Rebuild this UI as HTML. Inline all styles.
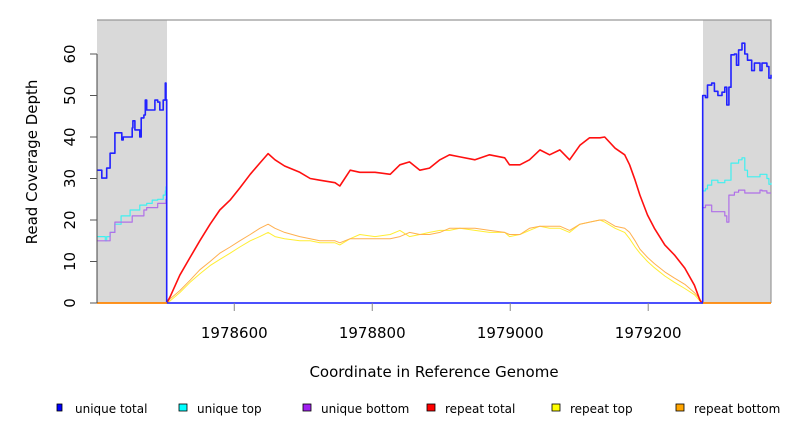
<!DOCTYPE html>
<html><head><meta charset="utf-8">
<style>
body{margin:0;background:#fff;font-family:"Liberation Sans","DejaVu Sans",sans-serif;}
svg text{font-family:"DejaVu Sans","Liberation Sans",sans-serif;}
</style></head>
<body>
<svg id="chart" width="792" height="432" viewBox="0 0 792 432" xmlns="http://www.w3.org/2000/svg">
  <rect x="97" y="20" width="70" height="283" fill="#d9d9d9"/>
  <rect x="703" y="20" width="68" height="283" fill="#d9d9d9"/>
  <path d="M97 20 H771 V303" fill="none" stroke="#999" stroke-width="1.2"/>
  <g id="series"></g>
  <g id="axes"></g>
  <text x="434" y="377" font-size="15" text-anchor="middle">Coordinate in Reference Genome</text>
  <text transform="translate(37,162) rotate(-90)" font-size="15" text-anchor="middle">Read Coverage Depth</text>
  <g id="legend"></g>
</svg>
<script>
const xMin = 1978401, xMax = 1979378;
const yTicks = [0,10,20,30,40,50,60];
const xTicks = [1978600,1978800,1979000,1979200];
const uniqueCoords = [1978401,1978405,1978408,1978413,1978415,1978420,1978427,1978436,1978437,1978439,1978449,1978452,1978453,1978456,1978463,1978465,1978469,1978471,1978473,1978481,1978485,1978489,1978492,1978497,1978500,1978501,1978502,
 1979278,1979279,1979283,1979286,1979292,1979296,1979301,1979307,1979311,1979314,1979317,1979320,1979325,1979328,1979331,1979336,1979340,1979344,1979350,1979354,1979362,1979365,1979372,1979375,1979378];
const uniqueTotal = [32,32,30.1,30.1,32.5,36.1,41,41,39.3,40,40,42.2,43.9,41.7,40,44.6,45.3,48.9,46.5,46.5,48.9,48.4,46.5,48.9,53,49,0,
 0,50,49.5,52.5,53,51,50,50.8,52,47.7,52,59.8,60,57.3,61,62.6,60,58.5,56,57.8,56,57.8,57,54.2,55];
const uniqueTop = [16,16,16,15,16,17,19,21,21,21,22.4,22.4,22.4,22.4,23.6,23.6,23.6,23.6,24,24.8,24.8,25,25,26,27,28,0,
 0,27,27.5,28.4,29.6,29.6,29,29,29.6,29.6,29.6,33.7,33.7,33.7,34.5,35,32,30.4,30.4,30.4,31,31,30,28.6,29];
const uniqueBottom = [15,15,15,15,15,17,19.5,19.5,19.5,19.5,19.5,21,21,21,21,21,22.4,22.4,23,23,23,24,24,24,24,25,0,
 0,23,23.6,23.6,22,22,22,22,21,19.5,26,26,26.7,26.7,27.2,27.2,26.5,26.5,26.5,26.5,27.2,27,26.5,26.5,26.5];
const repeatCoords = [1978401,1978502,1978507,1978521,1978536,1978550,1978565,1978579,1978594,1978608,1978623,1978637,1978649,1978659,1978673,1978695,1978710,1978724,1978746,1978753,1978768,1978782,1978804,1978826,1978840,1978854,1978869,1978883,1978898,1978912,1978927,1978949,1978970,1978992,1978999,1979014,1979028,1979043,1979057,1979072,1979086,1979101,1979115,1979130,1979137,1979152,1979166,1979173,1979181,1979188,1979199,1979209,1979224,1979238,1979253,1979267,1979275,1979278,1979378];
const repeatTotal = [0,0,1.5,6.7,11,15,19,22.4,24.8,27.7,31,33.7,36,34.5,33,31.5,30,29.6,29,28.2,32,31.5,31.5,31,33.3,34,32,32.5,34.5,35.7,35.2,34.5,35.7,35,33.3,33.3,34.5,36.9,35.7,36.9,34.5,38,39.8,39.8,40,37.3,35.7,33.3,29.6,26,21.2,18,14,11.6,8.4,4.3,0.7,0,0];
const repeatTop = [0,0,0.5,2.5,5,7,9,10.5,12,13.5,15,16,17,16,15.5,15,15,14.5,14.5,14,15.5,16.5,16,16.5,17.5,16,16.5,17,17.5,17.5,18,17.5,17,17,16,16.5,17.5,18.5,18,18,17,19,19.5,20,19.5,18,17,15.5,13.5,12,10,8.5,6.5,5,3.5,2,0.5,0,0];
const repeatBottom = [0,0,1,3,5.5,8,10,12,13.5,15,16.5,18,19,18,17,16,15.5,15,15,14.5,15.5,15.5,15.5,15.5,16,17,16.5,16.5,17,18,18,18,17.5,17,16.5,16.5,18,18.5,18.5,18.5,17.5,19,19.5,20,20,18.5,18,17,15,13,11,9.5,7.5,6,4.5,2.5,1,0,0];

const NS = "http://www.w3.org/2000/svg";
const PX0 = 97, PX1 = 771, PY0 = 303, PY60 = 54;
function xs(c){ return PX0 + (c - xMin) / (xMax - xMin) * (PX1 - PX0); }
function ys(v){ return PY0 - v / 60 * (PY0 - PY60); }
function stepPath(cs, vs){
  let d = "M" + xs(cs[0]).toFixed(1) + " " + ys(vs[0]).toFixed(1);
  for (let i = 1; i < cs.length; i++){
    d += " H" + xs(cs[i]).toFixed(1) + " V" + ys(vs[i]).toFixed(1);
  }
  return d;
}
function linePath(cs, vs){
  let d = "M" + xs(cs[0]).toFixed(1) + " " + ys(vs[0]).toFixed(1);
  for (let i = 1; i < cs.length; i++){
    d += " L" + xs(cs[i]).toFixed(1) + " " + ys(vs[i]).toFixed(1);
  }
  return d;
}
const seriesG = document.getElementById("series");
function addSeries(name, d, color, w){
  const p = document.createElementNS(NS, "path");
  p.setAttribute("d", d);
  p.setAttribute("fill", "none");
  p.setAttribute("stroke", color);
  p.setAttribute("stroke-width", w);
  p.setAttribute("stroke-linejoin", "round");
  
  
  seriesG.appendChild(p);
}
addSeries("series-repeat-top", linePath(repeatCoords, repeatTop), "#ffee33", 1);
addSeries("series-repeat-bottom", linePath(repeatCoords, repeatBottom), "#ffb050", 1);
addSeries("series-repeat-total", linePath(repeatCoords, repeatTotal), "#ff1010", 1.6);
addSeries("series-unique-top", stepPath(uniqueCoords, uniqueTop), "#40f0f0", 1.2);
addSeries("series-unique-bottom", stepPath(uniqueCoords, uniqueBottom), "#b070e8", 1.2);
addSeries("series-unique-total", stepPath(uniqueCoords, uniqueTotal), "#2222ff", 1.6);
const ob = document.createElementNS(NS, "path");
ob.setAttribute("d", "M97 303 H167 M703 303 H771");
ob.setAttribute("stroke", "#ff9900");
ob.setAttribute("stroke-width", "1.5");


seriesG.appendChild(ob);

const axesG = document.getElementById("axes");
const yl = document.createElementNS(NS, "line");
yl.setAttribute("x1", PX0); yl.setAttribute("x2", PX0);
yl.setAttribute("y1", ys(60)); yl.setAttribute("y2", PY0);
yl.setAttribute("stroke", "#444"); yl.setAttribute("stroke-width", "1");


axesG.appendChild(yl);
yTicks.forEach(v => {
  const t = document.createElementNS(NS, "line");
  t.setAttribute("x1", 90); t.setAttribute("x2", PX0);
  t.setAttribute("y1", ys(v)); t.setAttribute("y2", ys(v));
  t.setAttribute("stroke", "#555");
  
  
  axesG.appendChild(t);
  const tx = document.createElementNS(NS, "text");
  tx.setAttribute("transform", "translate(75," + ys(v) + ") rotate(-90)");
  tx.setAttribute("text-anchor", "middle");
  tx.setAttribute("font-size", "15");
  tx.textContent = v;
  
  
  axesG.appendChild(tx);
});
xTicks.forEach(c => {
  const t = document.createElementNS(NS, "line");
  t.setAttribute("x1", xs(c)); t.setAttribute("x2", xs(c));
  t.setAttribute("y1", PY0); t.setAttribute("y2", 311);
  t.setAttribute("stroke", "#888");
  
  
  axesG.appendChild(t);
  const tx = document.createElementNS(NS, "text");
  tx.setAttribute("x", xs(c)); tx.setAttribute("y", 338);
  tx.setAttribute("text-anchor", "middle");
  tx.setAttribute("font-size", "15");
  tx.textContent = c;
  
  
  axesG.appendChild(tx);
});

const legendLabels = ["unique total","unique top","unique bottom","repeat total","repeat top","repeat bottom"];
const legendColors = ["#0000ff","#00ffff","#a020f0","#ff0000","#ffff00","#ffa500"];
const legendX = [57,179,303,427,552,676];
const lg = document.getElementById("legend");
legendLabels.forEach((lab, i) => {
  const r = document.createElementNS(NS, "rect");
  r.setAttribute("x", legendX[i]); r.setAttribute("y", 404);
  r.setAttribute("width", i === 0 ? 5 : 8); r.setAttribute("height", 7);
  r.setAttribute("fill", legendColors[i]); r.setAttribute("stroke", "#000"); r.setAttribute("stroke-width", "0.8");
  
  
  lg.appendChild(r);
  const t = document.createElementNS(NS, "text");
  t.setAttribute("x", legendX[i] + 18); t.setAttribute("y", 413);
  t.setAttribute("font-size", "12");
  t.textContent = lab;
  
  
  lg.appendChild(t);
});
</script>
</body></html>
